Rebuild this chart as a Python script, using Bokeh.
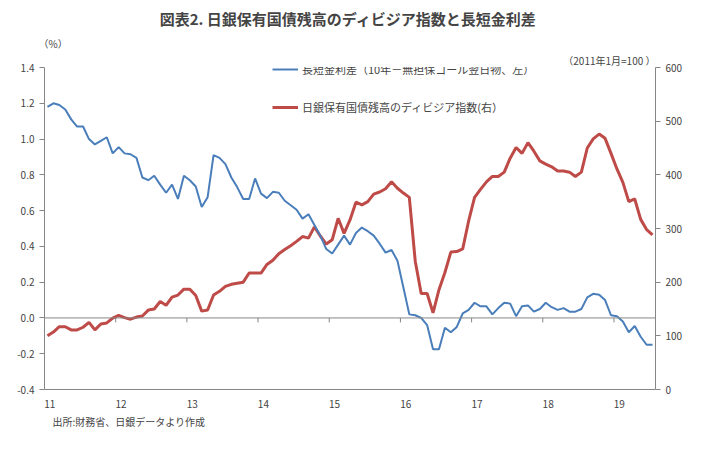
from bokeh.plotting import figure
from bokeh.models import Range1d, LinearAxis, FixedTicker, Legend, LegendItem, Span, CustomJSTickFormatter, Title
from bokeh.embed import file_html
from bokeh.resources import INLINE

years = ["11", "12", "13", "14", "15", "16", "17", "18", "19"]
spread = [1.18, 1.20, 1.19, 1.165, 1.11, 1.07, 1.07, 1.0, 0.97, 0.99, 1.01, 0.92, 0.955, 0.92, 0.915, 0.895,
          0.785, 0.77, 0.795, 0.745, 0.70, 0.745, 0.665, 0.795, 0.77, 0.735, 0.62, 0.675, 0.91, 0.895, 0.86,
          0.785, 0.73, 0.665, 0.665, 0.78, 0.695, 0.67, 0.705, 0.70, 0.655, 0.63, 0.605, 0.555, 0.58, 0.52,
          0.46, 0.385, 0.36, 0.41, 0.46, 0.41, 0.475, 0.505, 0.485, 0.46, 0.415, 0.365, 0.38, 0.32, 0.17,
          0.02, 0.015, 0.0, -0.04, -0.175, -0.175, -0.055, -0.08, -0.05, 0.025, 0.045, 0.085, 0.065, 0.065,
          0.02, 0.055, 0.085, 0.08, 0.01, 0.065, 0.07, 0.035, 0.05, 0.085, 0.06, 0.045, 0.055, 0.035, 0.035,
          0.05, 0.115, 0.135, 0.13, 0.10, 0.015, 0.01, -0.02, -0.08, -0.045, -0.105, -0.15, -0.15]
divisia = [100, 107, 117, 117, 111, 111, 116, 125, 111, 122, 124, 133, 138, 134, 131, 135, 137, 148, 150, 164,
           157, 172, 176, 187, 187, 175, 146, 148, 176, 183, 192, 196, 198, 200, 217, 217, 217, 233, 241, 253,
           261, 268, 276, 285, 282, 303, 286, 271, 279, 319, 291, 316, 349, 344, 350, 364, 368, 374, 387, 375,
           366, 358, 239, 179, 179, 143, 186, 218, 256, 257, 262, 314, 358, 373, 387, 397, 397, 405, 431, 451,
           440, 460, 444, 426, 420, 415, 407, 407, 405, 397, 405, 450, 467, 476, 468, 440, 411, 386, 350, 355,
           317, 298, 288]
xs = [i + 0.5 for i in range(len(spread))]

FONT = "Noto Sans CJK JP"
AX = "#868686"
p = figure(width=703, height=433, output_backend="svg", toolbar_location=None,
           x_range=Range1d(0, 103), y_range=Range1d(-0.4, 1.4),
           min_border_left=44, min_border_right=48, min_border_top=0, min_border_bottom=44)
p.title.text = "図表2.  日銀保有国債残高のディビジア指数と長短金利差"
p.title.align = "center"
p.title.text_font = FONT
p.title.text_font_size = "15px"
p.title.text_font_style = "bold"
p.outline_line_color = None
p.grid.visible = False
p.extra_y_ranges = {"r": Range1d(0, 600)}

p.add_layout(Title(text="（2011年1月=100 ）", align="right", text_font=FONT, text_font_size="10px",
                   text_font_style="normal", standoff=0), "above")
p.add_layout(Title(text="（%）", align="left", text_font=FONT, text_font_size="10px",
                   text_font_style="normal", standoff=0, offset=-6), "above")
p.add_layout(Title(text="出所:財務省、日銀データより作成", align="left", text_font=FONT, text_font_size="10px",
                   text_font_style="normal", standoff=2, offset=8), "below")

p.xaxis.ticker = FixedTicker(ticks=[i * 12 + 0.9 for i in range(len(years))])
p.xaxis.major_label_overrides = {i * 12 + 0.9: y for i, y in enumerate(years)}
p.xaxis.axis_line_color = AX
p.xaxis.major_tick_line_color = None
p.xaxis.minor_tick_line_color = None
p.xaxis.major_label_text_font = FONT
p.xaxis.major_label_text_font_size = "10px"
p.xaxis.major_label_standoff = 4

p.yaxis.ticker = FixedTicker(ticks=[-0.4 + 0.2 * i for i in range(10)])
p.yaxis.formatter = CustomJSTickFormatter(code="return tick.toFixed(1);")
ax = p.yaxis[0]
ax.axis_line_color = AX
ax.major_tick_line_color = AX
ax.major_tick_out = 5
ax.major_tick_in = 0
ax.minor_tick_line_color = None
ax.major_label_text_font = FONT
ax.major_label_text_font_size = "10px"

ra = LinearAxis(y_range_name="r", ticker=FixedTicker(ticks=list(range(0, 601, 100))))
ra.axis_line_color = AX
ra.major_tick_line_color = AX
ra.major_tick_out = 5
ra.major_tick_in = 0
ra.minor_tick_line_color = None
ra.major_label_text_font = FONT
ra.major_label_text_font_size = "10px"
p.add_layout(ra, "right")

p.add_layout(Span(location=0, dimension="width", line_color=AX, line_width=1))
p.segment(x0=[12 * i for i in range(1, 9)], x1=[12 * i for i in range(1, 9)],
          y0=[0] * 8, y1=[-0.025] * 8, line_color=AX, line_width=1)

r2 = p.line(xs, divisia, y_range_name="r", line_color="#BE4B48", line_width=3)
r1 = p.line(xs, spread, line_color="#4A7EBB", line_width=2)

leg = Legend(items=[LegendItem(label="長短金利差（10年－無担保コール翌日物、左）", renderers=[r1]),
                    LegendItem(label="日銀保有国債残高のディビジア指数(右）", renderers=[r2])],
             location=(228, 272), orientation="vertical", spacing=18, padding=0, margin=0,
             glyph_width=26, label_standoff=4, border_line_alpha=0, background_fill_alpha=0,
             label_text_font=FONT, label_text_font_size="11px")
p.add_layout(leg)

open("out.html", "w").write(file_html(p, INLINE))
